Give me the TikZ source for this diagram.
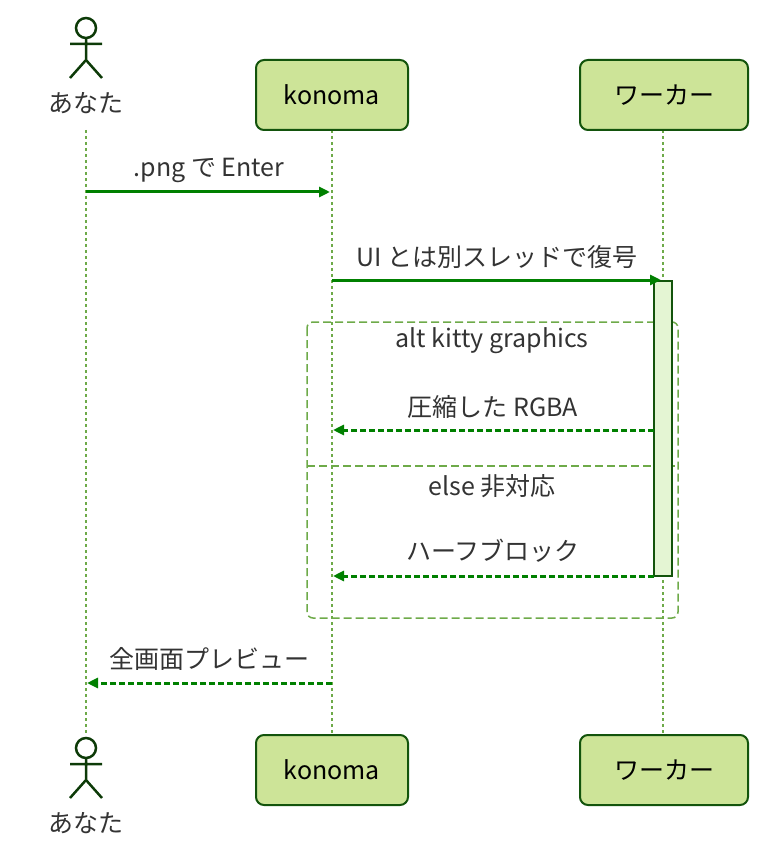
\documentclass[tikz,border=0pt]{standalone}
\usepackage{fontspec}
\setmainfont{Noto Sans CJK JP}
\usetikzlibrary{arrows.meta}
\definecolor{boxfill}{HTML}{CDE498}
\definecolor{boxdraw}{HTML}{13540C}
\definecolor{msg}{HTML}{008000}
\definecolor{life}{HTML}{6EAA49}
\definecolor{actfill}{HTML}{E4F5D3}
\begin{document}
\begin{tikzpicture}[x=1pt,y=-1pt,font=\fontsize{25}{30}\selectfont,
 part/.style={draw=boxdraw,line width=2pt,fill=boxfill,rounded corners=8pt,minimum height=70pt,inner sep=0pt},
 lifeline/.style={draw=life,line width=1.2pt,dash pattern=on 3pt off 3pt},
 sync/.style={draw=msg,line width=3pt,-{Triangle[length=11pt,width=10pt]}},
 reply/.style={draw=msg,line width=3pt,dash pattern=on 6pt off 3pt,-{Triangle[length=11pt,width=10pt]}},
 lbl/.style={text=black!80,inner sep=0pt},
 stick/.style={draw=boxdraw!70!black,line width=2.5pt}]
\useasboundingbox (0,0) rectangle (764,866);
% lifelines
\coordinate (a1) at (86,130); \coordinate (a2) at (86,735);
\draw[lifeline] (a1) -- (a2);
\draw[lifeline] (332,130) -- (332,735);
\draw[lifeline] (663,130) -- (663,735);
% participants
\node[part,minimum width=152pt] (k1) at (332,95) {konoma};
\node[part,minimum width=168pt] (w1) at (664,95) {ワーカー};
\node[part,minimum width=152pt] (k2) at (332,770) {konoma};
\node[part,minimum width=168pt] (w2) at (664,770) {ワーカー};
% actors
\foreach \y/\n in {0/t,720/b}{
 \begin{scope}[yshift=-\y]
  \draw[stick] (86,28) circle (10);
  \draw[stick] (86,38) -- (86,60) (70,44) -- (102,44) (86,60) -- (70,78) (86,60) -- (102,78);
 \end{scope}}
\node[lbl] (ua) at (86,103) {あなた};
\node[lbl] (ub) at (86,823) {あなた};
% alt box
\draw[draw=life,line width=1.5pt,dash pattern=on 8pt off 4pt,rounded corners=6pt] (307,322) rectangle (678,618);
\draw[draw=life,line width=1.5pt,dash pattern=on 8pt off 4pt] (307,466) -- (678,466);
\node[lbl] (alt) at (492,341) {alt kitty graphics};
\node[lbl] (els) at (492,486) {else 非対応};
% activation
\draw[draw=boxdraw,fill=actfill,line width=1.2pt] (654,281) rectangle (672,576);
% messages
\coordinate (m1s) at (86,192); \coordinate (m1e) at (330,192);
\draw[sync] (m1s) -- (m1e);
\node[lbl] at (209,170) {.png で Enter};
\coordinate (m2s) at (332,280); \coordinate (m2e) at (661,280);
\draw[sync] (m2s) -- (m2e);
\node[lbl] at (497,257) {UI とは別スレッドで復号};
\coordinate (m3s) at (654,430); \coordinate (m3e) at (333,430);
\draw[reply] (m3s) -- (m3e);
\node[lbl] at (493,407) {圧縮した RGBA};
\coordinate (m4s) at (654,576); \coordinate (m4e) at (333,576);
\draw[reply] (m4s) -- (m4e);
\node[lbl] at (493,551) {ハーフブロック};
\coordinate (m5s) at (332,683); \coordinate (m5e) at (87,683);
\draw[reply] (m5s) -- (m5e);
\node[lbl] at (209,659) {全画面プレビュー};
\end{tikzpicture}
\end{document}
